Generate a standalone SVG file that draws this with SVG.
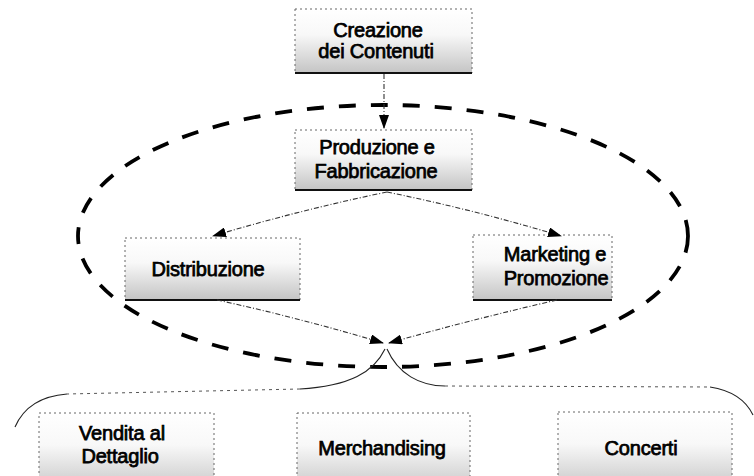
<svg xmlns="http://www.w3.org/2000/svg" width="754" height="476" viewBox="0 0 754 476">
<style>
.box{fill:url(#stip);stroke:#666;stroke-width:1;stroke-dasharray:2 3}
.base{stroke:#111;stroke-width:2}
.t{font-family:"Liberation Sans",Arial,sans-serif;font-size:20px;fill:#000;stroke:#000;stroke-width:0.75;letter-spacing:-0.2px;text-anchor:middle}
.con{fill:none;stroke:#333;stroke-width:1.1;stroke-dasharray:5 2 1 2}
.brace{fill:none;stroke:#222;stroke-width:1.1}
.braced{fill:none;stroke:#555;stroke-width:1;stroke-dasharray:3 4}
.ell{fill:none;stroke:#000;stroke-width:3.8;stroke-dasharray:17 15}
</style>
<defs>
<linearGradient id="stip" x1="0" y1="0" x2="0" y2="1">
<stop offset="0" stop-color="#ffffff"/>
<stop offset="0.4" stop-color="#f8f8f8"/>
<stop offset="1" stop-color="#c4c4c4"/>
</linearGradient>
<marker id="ah" markerWidth="14" markerHeight="10" refX="13" refY="5" orient="auto" markerUnits="userSpaceOnUse">
<path d="M0,0 L14,5 L0,10 Z" fill="#000"/>
</marker>
</defs>

<g id="node-creazione">
<rect class="box" x="295" y="9" width="177" height="64"/>
<line class="base" x1="295" y1="73" x2="472" y2="73"/>
<text class="t" x="378" y="37">Creazione</text>
<text class="t" x="376" y="58">dei Contenuti</text>
</g>

<g id="node-produzione">
<rect class="box" x="295" y="130" width="177" height="60"/>
<line class="base" x1="295" y1="190" x2="472" y2="190"/>
<text class="t" x="377" y="154">Produzione e</text>
<text class="t" x="376" y="178">Fabbricazione</text>
</g>

<g id="node-distribuzione">
<rect class="box" x="125" y="238" width="175" height="62"/>
<line class="base" x1="125" y1="300" x2="300" y2="300"/>
<text class="t" x="208" y="276">Distribuzione</text>
</g>

<g id="node-marketing">
<rect class="box" x="473" y="235" width="139" height="65"/>
<line class="base" x1="473" y1="300" x2="612" y2="300"/>
<text class="t" x="555" y="261">Marketing e</text>
<text class="t" x="556" y="285">Promozione</text>
</g>

<g id="node-vendita">
<rect class="box" x="39" y="413" width="175" height="80"/>
<text class="t" x="122" y="440">Vendita al</text>
<text class="t" x="120" y="463">Dettaglio</text>
</g>

<g id="node-merchandising">
<rect class="box" x="297" y="413" width="173" height="80"/>
<text class="t" x="382" y="455">Merchandising</text>
</g>

<g id="node-concerti">
<rect class="box" x="558" y="412" width="174" height="80"/>
<text class="t" x="641" y="455">Concerti</text>
</g>

<g id="ellipse">
<ellipse class="ell" cx="383" cy="236" rx="305" ry="131"/>
</g>

<g id="connectors">
<line class="con" x1="384" y1="74" x2="384" y2="128" marker-end="url(#ah)"/>
<path class="con" d="M387,192 Q300,210 213,236" marker-end="url(#ah)"/>
<path class="con" d="M387,192 Q475,210 561,236" marker-end="url(#ah)"/>
<path class="con" d="M217,300 Q300,318 383,343" marker-end="url(#ah)"/>
<path class="con" d="M557,300 Q470,320 389,343" marker-end="url(#ah)"/>
<path class="brace" d="M385,349 C374,372 350,386 300,389"/>
<path class="braced" d="M300,389 L67,394"/>
<path class="brace" d="M67,394 Q28,397 15,427"/>
<path class="brace" d="M387,349 C398,374 420,386 445,386"/>
<path class="braced" d="M445,386 L710,387"/>
<path class="brace" d="M710,387 Q742,392 753,415"/>
</g>
</svg>
